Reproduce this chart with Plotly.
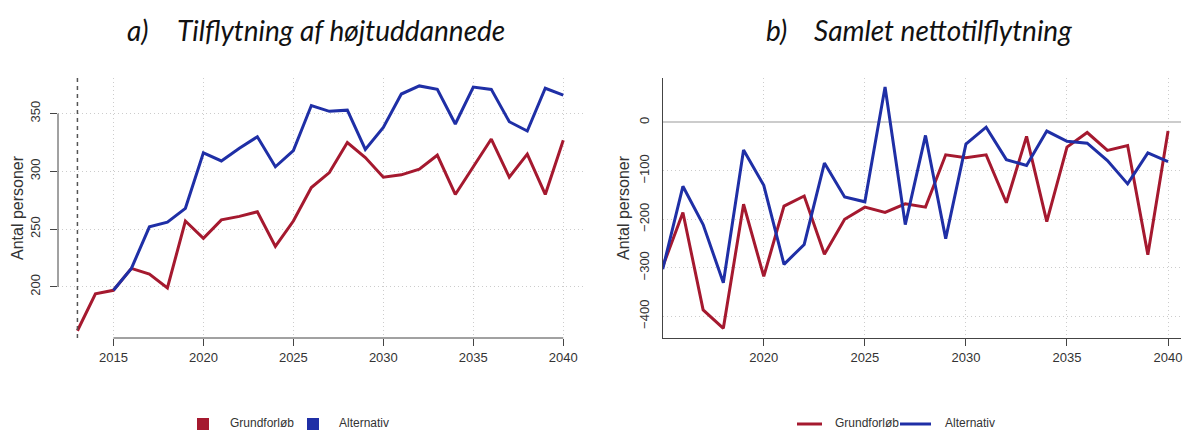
import plotly.graph_objects as go

# ---------------- data ----------------
years_a = list(range(2013, 2041))
a_grund = [162, 194, 197, 216, 211, 199, 257, 242, 258, 261, 265, 235, 257, 286,
           299, 325, 312, 295, 297, 302, 314, 280, 304, 328, 295, 315, 280, 327]
years_a_alt = list(range(2015, 2041))
a_alt = [197, 216, 252, 256, 268, 316, 309, 320, 330, 304, 318, 357, 352, 353,
         319, 338, 367, 374, 371, 341, 373, 371, 343, 335, 372, 366]

years_b = list(range(2015, 2041))
b_grund = [-298, -186, -387, -425, -169, -318, -173, -152, -272, -200, -175, -186, -168,
           -175, -67, -73, -67, -166, -29, -205, -51, -21, -58, -48, -273, -18]
b_alt = [-303, -132, -211, -331, -57, -130, -293, -252, -84, -154, -164, 73, -211,
         -27, -240, -45, -10, -77, -89, -18, -39, -43, -79, -127, -63, -81]

series_names = ["Grundforløb", "Alternativ"]
a_xticks = [2015, 2020, 2025, 2030, 2035, 2040]
b_xticks = [2020, 2025, 2030, 2035, 2040]
a_yticks = [200, 250, 300, 350]
b_yticks = [0, -100, -200, -300, -400]
title_a = ("a)", "Tilflytning af højtuddannede")
title_b = ("b)", "Samlet nettotilflytning")
ylabel = "Antal personer"

# ---------------- style ----------------
RED = "#a5192f"
BLUE = "#1f2fa6"
AX = "#444444"
GRID = "#cccccc"
TXT = "#333333"
W, H = 1184, 430
FONT = "Liberation Sans, Arial, sans-serif"
TFONT = "Lato, Open Sans, sans-serif"

def px_x(p):
    return p / W

def px_y(p):
    return (H - p) / H

ydom = [px_y(338), px_y(77.5)]

fig = go.Figure()

# left chart
fig.add_trace(go.Scatter(x=years_a, y=a_grund, mode="lines", line=dict(color=RED, width=3),
                         xaxis="x", yaxis="y", showlegend=False, name=series_names[0]))
fig.add_trace(go.Scatter(x=years_a_alt, y=a_alt, mode="lines", line=dict(color=BLUE, width=3),
                         xaxis="x", yaxis="y", showlegend=False, name=series_names[1]))
# right chart
fig.add_trace(go.Scatter(x=years_b, y=b_grund, mode="lines", line=dict(color=RED, width=3),
                         xaxis="x2", yaxis="y2", showlegend=False, name=series_names[0]))
fig.add_trace(go.Scatter(x=years_b, y=b_alt, mode="lines", line=dict(color=BLUE, width=3),
                         xaxis="x2", yaxis="y2", showlegend=False, name=series_names[1]))

tickfont = dict(family=FONT, size=13, color=TXT)
grid = dict(showgrid=True, gridcolor=GRID, griddash="1px,3px", gridwidth=1)

fig.update_layout(
    template="none",
    width=W, height=H,
    margin=dict(l=0, r=0, t=0, b=0, autoexpand=False),
    paper_bgcolor="white", plot_bgcolor="white",
    xaxis=dict(domain=[px_x(58), px_x(582.7)], range=[2011.92, 2041.08], automargin=False,
               tickvals=a_xticks, ticks="outside", ticklen=7, tickcolor=AX,
               showline=False, zeroline=False, tickfont=tickfont, anchor="y", **grid),
    yaxis=dict(domain=ydom, range=[155.7, 381.3], tickvals=a_yticks, automargin=False,
               ticks="outside", ticklen=7, tickcolor=AX, tickangle=-90, ticklabelstandoff=5,
               showline=False, zeroline=False, tickfont=tickfont, anchor="x", **grid),
    xaxis2=dict(domain=[px_x(662.7), px_x(1181)], range=[2015, 2040.64], automargin=False,
                tickvals=b_xticks, ticks="outside", ticklen=7, tickcolor=AX,
                showline=True, linecolor=AX, linewidth=1, zeroline=False,
                ticklabeloverflow="allow",
                tickfont=tickfont, anchor="y2", **grid),
    yaxis2=dict(domain=ydom, range=[-445, 92.5], tickvals=b_yticks, automargin=False,
                ticks="", tickangle=-90, ticklabelstandoff=8,
                showline=True, linecolor=AX, linewidth=1,
                zeroline=True, zerolinecolor="#cccccc", zerolinewidth=2,
                tickfont=tickfont, anchor="x2", **grid),
)

shapes = [
    # R-style axis lines for left chart
    dict(type="line", xref="x domain", yref="y", x0=0, x1=0, y0=a_yticks[0], y1=a_yticks[-1],
         line=dict(color=AX, width=1)),
    dict(type="line", xref="x", yref="y domain", x0=a_xticks[0], x1=a_xticks[-1], y0=0, y1=0,
         line=dict(color=AX, width=1)),
    # dashed vertical line at first year
    dict(type="line", xref="x", yref="y domain", x0=years_a[0], x1=years_a[0], y0=0, y1=1,
         line=dict(color="#555555", width=1.5, dash="4px,4px")),
    # left legend squares
    dict(type="rect", xref="paper", yref="paper", x0=px_x(197), x1=px_x(209),
         y0=px_y(430), y1=px_y(418), fillcolor=RED, line=dict(width=0)),
    dict(type="rect", xref="paper", yref="paper", x0=px_x(307), x1=px_x(319),
         y0=px_y(430), y1=px_y(418), fillcolor=BLUE, line=dict(width=0)),
    # right legend lines
    dict(type="line", xref="paper", yref="paper", x0=px_x(797), x1=px_x(822),
         y0=px_y(424), y1=px_y(424), line=dict(color=RED, width=3)),
    dict(type="line", xref="paper", yref="paper", x0=px_x(900), x1=px_x(931),
         y0=px_y(424), y1=px_y(424), line=dict(color=BLUE, width=3)),
]
fig.update_layout(shapes=shapes)

ann = []
tfont = dict(family=TFONT, size=28, color="#111111")
for (lab, txt), x_lab, x_txt in [(title_a, 125, 175), (title_b, 764, 812)]:
    ann.append(dict(text=f"<i>{lab}</i>", x=px_x(x_lab), y=px_y(30), xref="paper", yref="paper",
                    xanchor="left", yanchor="middle", showarrow=False, font=tfont))
    ann.append(dict(text=f"<i>{txt}</i>", x=px_x(x_txt), y=px_y(30), xref="paper", yref="paper",
                    xanchor="left", yanchor="middle", showarrow=False, font=tfont))

lfont = dict(family=FONT, size=16, color=TXT)
for xc in (17, 623):
    ann.append(dict(text=ylabel, x=px_x(xc), y=px_y(208), xref="paper", yref="paper",
                    xanchor="center", yanchor="middle", showarrow=False, textangle=-90, font=lfont))

legfont = dict(family=FONT, size=12, color=TXT)
for txt, xl in [(series_names[0], 228), (series_names[1], 337), (series_names[0], 833), (series_names[1], 943)]:
    ann.append(dict(text=txt, x=px_x(xl), y=px_y(423), xref="paper", yref="paper",
                    xanchor="left", yanchor="middle", showarrow=False, font=legfont))

fig.update_layout(annotations=ann)

fig.write_html(
    "out.html",
    config={"displayModeBar": False},
    post_script="document.body.style.margin='0';document.body.style.overflow='hidden';",
)
